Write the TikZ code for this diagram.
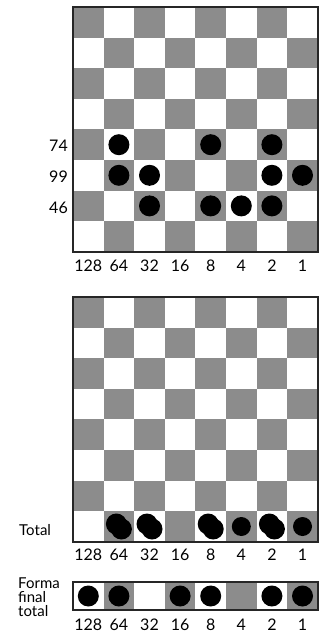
\documentclass[tikz,border=0pt]{standalone}
\usepackage{fontspec}
\setmainfont{Lato}
\usetikzlibrary{positioning}

\begin{document}
\begin{tikzpicture}[x=1pt, y=-1pt,
    dark/.style={fill=black!45},
    piece/.style={fill=black},
    boardframe/.style={draw=black!85, line width=1.4pt},
    lbl/.style={font=\fontsize{16}{18}\selectfont, inner sep=0pt}]
    \useasboundingbox[fill=white] (0,0) rectangle (320,634);
    \def\cell{30.6}

    % upper board: the three numbers
    \foreach \r in {0,...,7}
        \foreach \k in {0,...,3}
            \fill[dark] ({73+(2*\k+mod(\r,2))*\cell}, {7+\r*\cell}) rectangle +(\cell,\cell);
    \draw[boardframe] (73,7) rectangle +(8*\cell, 8*\cell);
    \foreach \c/\r in {1/4, 4/4, 6/4, 1/5, 2/5, 6/5, 7/5, 2/6, 4/6, 5/6, 6/6}
        \fill[piece] ({73+(\c+0.5)*\cell}, {7+(\r+0.5)*\cell}) circle (10.5);

    \node[lbl, anchor=east] (n74) at (68,146) {74};
    \node[lbl, anchor=east] (n99) at (68,177) {99};
    \node[lbl, anchor=east] (n46) at (68,208) {46};

    \foreach \v [count=\i from 0] in {128,64,32,16,8,4,2,1}
        \node[lbl] (top\v) at ({73+(\i+0.5)*\cell}, 266) {\v};

    % lower board: the total
    \foreach \r in {0,...,7}
        \foreach \k in {0,...,3}
            \fill[dark] ({73+(2*\k+mod(\r,2))*\cell}, {297+\r*\cell}) rectangle +(\cell,\cell);
    \draw[boardframe] (73,297) rectangle +(8*\cell, 8*\cell);
    \foreach \c in {1, 2, 4, 6} {
        \fill[piece] ({73+(\c+0.5)*\cell-2.5}, {297+7.5*\cell-2.5}) circle (10.5);
        \fill[piece] ({73+(\c+0.5)*\cell+2.5}, {297+7.5*\cell+2.5}) circle (10.5);
    }
    \foreach \c in {5, 7}
        \fill[piece] ({73+(\c+0.5)*\cell}, {297+7.5*\cell}) circle (9.5);

    \node[lbl, anchor=west, font=\fontsize{15}{17}\selectfont] (total) at (19,530) {Total};

    \foreach \v [count=\i from 0] in {128,64,32,16,8,4,2,1}
        \node[lbl] (mid\v) at ({73+(\i+0.5)*\cell}, 555) {\v};

    % strip: final form
    \foreach \k in {0,...,3}
        \fill[dark] ({73+(2*\k+1)*\cell}, 582) rectangle +(\cell,28);
    \draw[boardframe] (73,582) rectangle +(8*\cell, 28);
    \foreach \c in {0, 1, 3, 4, 6, 7}
        \fill[piece] ({73+(\c+0.5)*\cell}, 596) circle (10.5);

    \node[lbl, anchor=west, align=left, font=\fontsize{15}{14}\selectfont] (final) at (18,597) {Forma\\final\\total};

    \foreach \v [count=\i from 0] in {128,64,32,16,8,4,2,1}
        \node[lbl] (bot\v) at ({73+(\i+0.5)*\cell}, 625) {\v};
\end{tikzpicture}
\end{document}
